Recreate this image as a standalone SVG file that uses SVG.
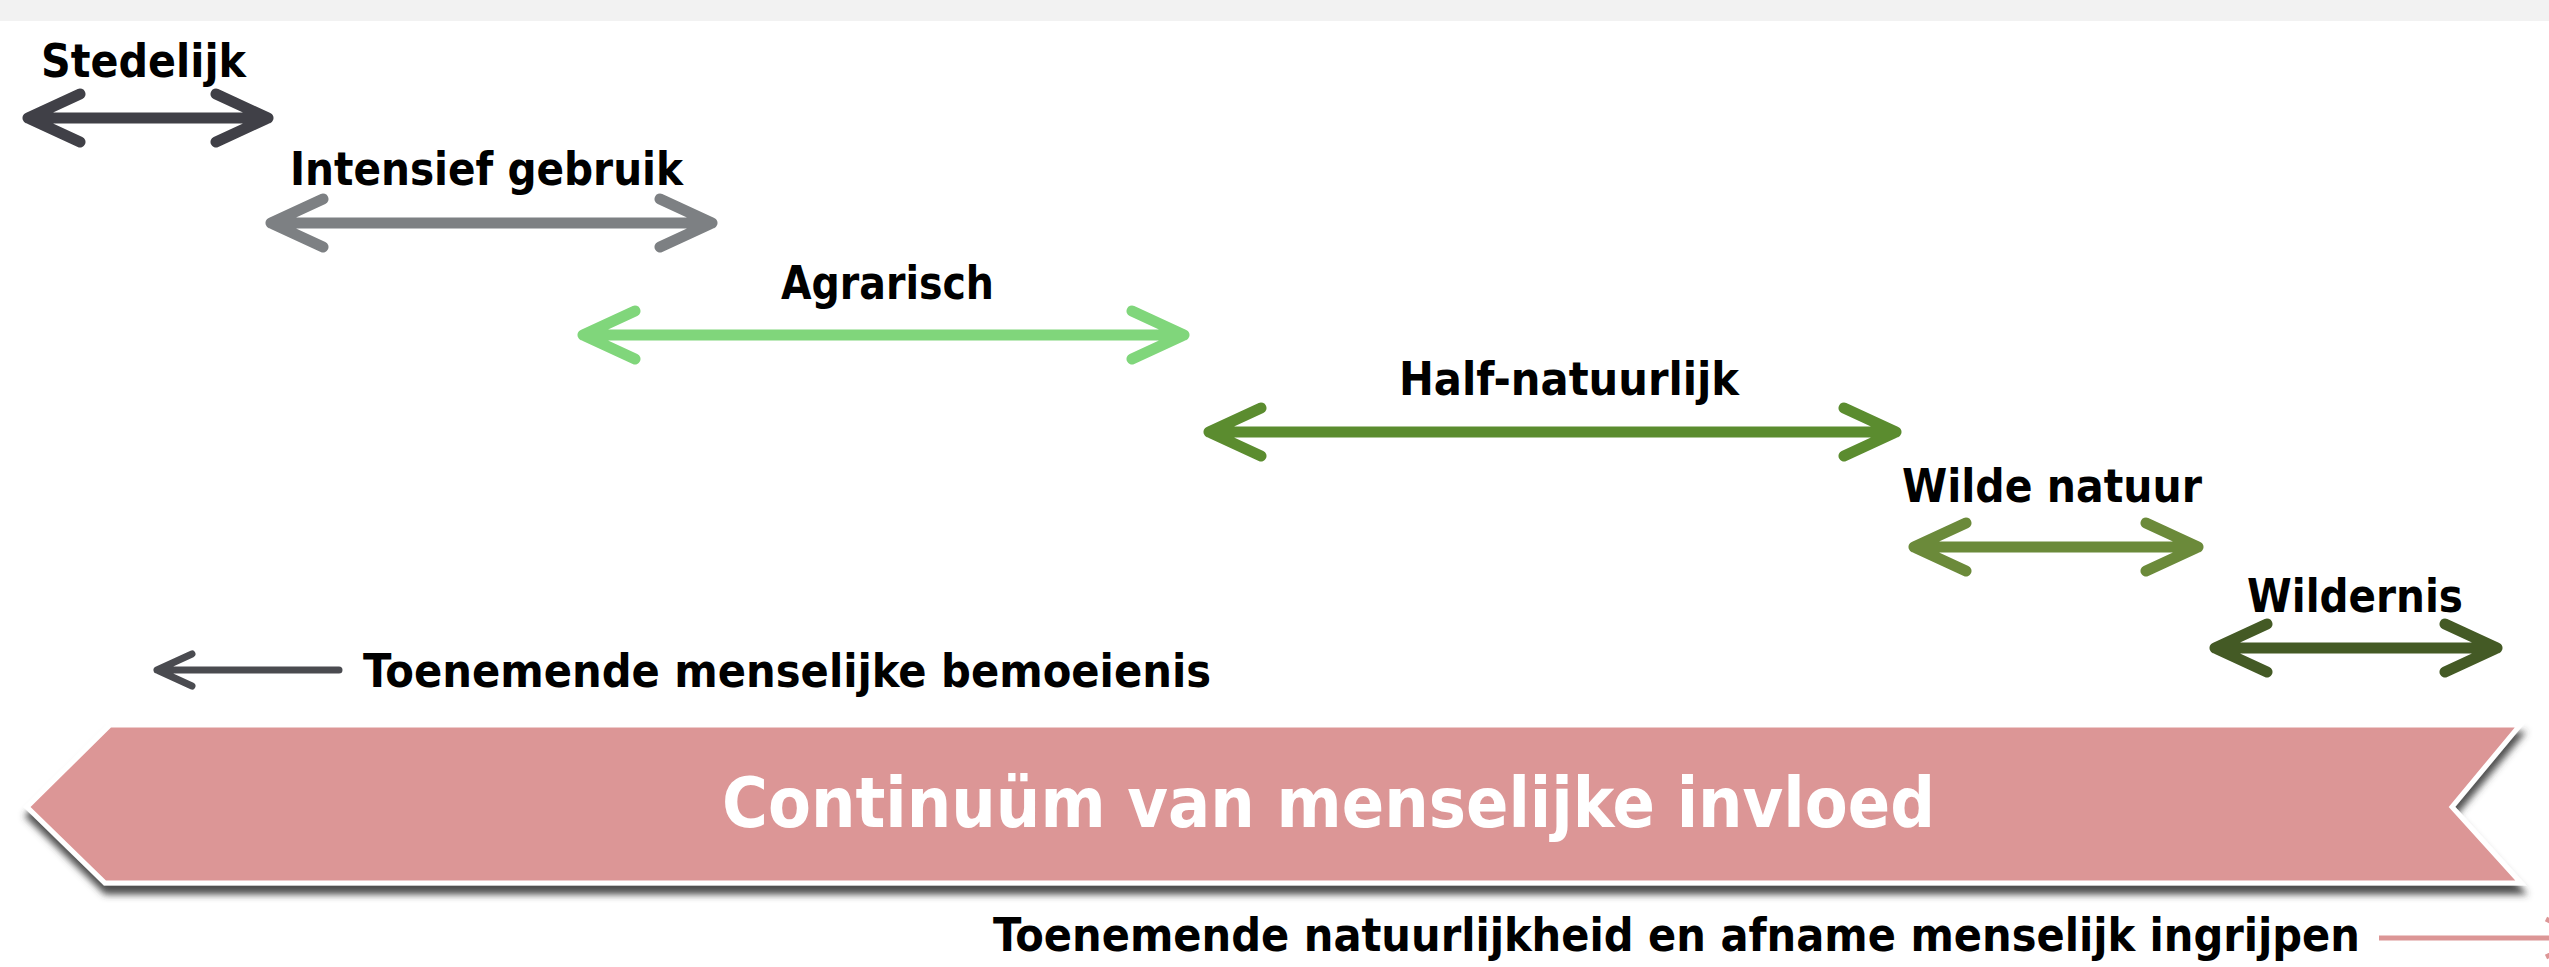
<svg xmlns="http://www.w3.org/2000/svg" width="2549" height="967" viewBox="0 0 2549 967">
  <style>
    .lbl { font-family: "DejaVu Sans Condensed", "DejaVu Sans", sans-serif; font-stretch: condensed; font-weight: bold; font-size: 47px; fill: #000; }
    .big { font-family: "DejaVu Sans Condensed", "DejaVu Sans", sans-serif; font-stretch: condensed; font-weight: bold; font-size: 70px; fill: #fff; }
    .arr { fill: none; stroke-width: 11; stroke-linecap: round; stroke-linejoin: round; }
  </style>
  <defs>
    <filter id="shadow" x="-5%" y="-20%" width="110%" height="150%">
      <feGaussianBlur in="SourceAlpha" stdDeviation="3.5" result="b"/>
      <feOffset in="b" dx="1" dy="9" result="o"/>
      <feFlood flood-color="#3c3c3c" flood-opacity="0.9"/>
      <feComposite in2="o" operator="in" result="s"/>
      <feMerge><feMergeNode in="s"/><feMergeNode in="SourceGraphic"/></feMerge>
    </filter>
  </defs>
  <rect x="0" y="0" width="2549" height="967" fill="#ffffff"/>
  <rect x="0" y="0" width="2549" height="21" fill="#f2f2f2"/>

  <g id="ribbon">
    <polygon points="110,725 2520,725 2452,807 2521,883 105,883 27,807" fill="#dc9696" stroke="#ffffff" stroke-width="5" stroke-linejoin="miter" filter="url(#shadow)"/>
    <text class="big" x="722" y="827" textLength="1213" lengthAdjust="spacingAndGlyphs">Continuüm van menselijke invloed</text>
  </g>

  <g id="connectors">
    <path class="arr" stroke="#404047" d="M80 94 L28 118 L80 142 M28 118 L268 118 M216 94 L268 118 L216 142"/>
    <path class="arr" stroke="#7d8083" d="M323 199 L271 223 L323 247 M271 223 L712 223 M660 199 L712 223 L660 247"/>
    <path class="arr" stroke="#80d67b" d="M635 311 L583 335 L635 359 M583 335 L1184 335 M1132 311 L1184 335 L1132 359"/>
    <path class="arr" stroke="#5b8c2f" d="M1261 408 L1209 432 L1261 456 M1209 432 L1896 432 M1844 408 L1896 432 L1844 456"/>
    <path class="arr" stroke="#6b8a3a" d="M1966 523 L1914 547 L1966 571 M1914 547 L2198 547 M2146 523 L2198 547 L2146 571"/>
    <path class="arr" stroke="#445a25" d="M2267 624 L2215 648 L2267 672 M2215 648 L2497 648 M2445 624 L2497 648 L2445 672"/>
    <path fill="none" stroke="#4a4b50" stroke-width="7" stroke-linecap="round" stroke-linejoin="round" d="M192 654 L157 670 L192 686 M157 670 L339 670"/>
    <path fill="none" stroke="#dc9696" stroke-width="5" stroke-linecap="butt" stroke-linejoin="round" d="M2379 938 L2549 938 M2546 919 L2585 938 L2546 957"/>
  </g>

  <g id="stedelijk"><text class="lbl" x="41" y="77" textLength="205" lengthAdjust="spacingAndGlyphs">Stedelijk</text></g>
  <g id="intensief"><text class="lbl" x="290" y="185" textLength="393" lengthAdjust="spacingAndGlyphs">Intensief gebruik</text></g>
  <g id="agrarisch"><text class="lbl" x="781" y="299" textLength="213" lengthAdjust="spacingAndGlyphs">Agrarisch</text></g>
  <g id="halfnatuurlijk"><text class="lbl" x="1399" y="395" textLength="340" lengthAdjust="spacingAndGlyphs">Half-natuurlijk</text></g>
  <g id="wildenatuur"><text class="lbl" x="1902" y="502" textLength="300" lengthAdjust="spacingAndGlyphs">Wilde natuur</text></g>
  <g id="wildernis"><text class="lbl" x="2247" y="612" textLength="216" lengthAdjust="spacingAndGlyphs">Wildernis</text></g>
  <g id="bemoeienis"><text class="lbl" x="363" y="687" textLength="848" lengthAdjust="spacingAndGlyphs">Toenemende menselijke bemoeienis</text></g>
  <g id="natuurlijkheid"><text class="lbl" x="993" y="951" textLength="1367" lengthAdjust="spacingAndGlyphs">Toenemende natuurlijkheid en afname menselijk ingrijpen</text></g>
</svg>
